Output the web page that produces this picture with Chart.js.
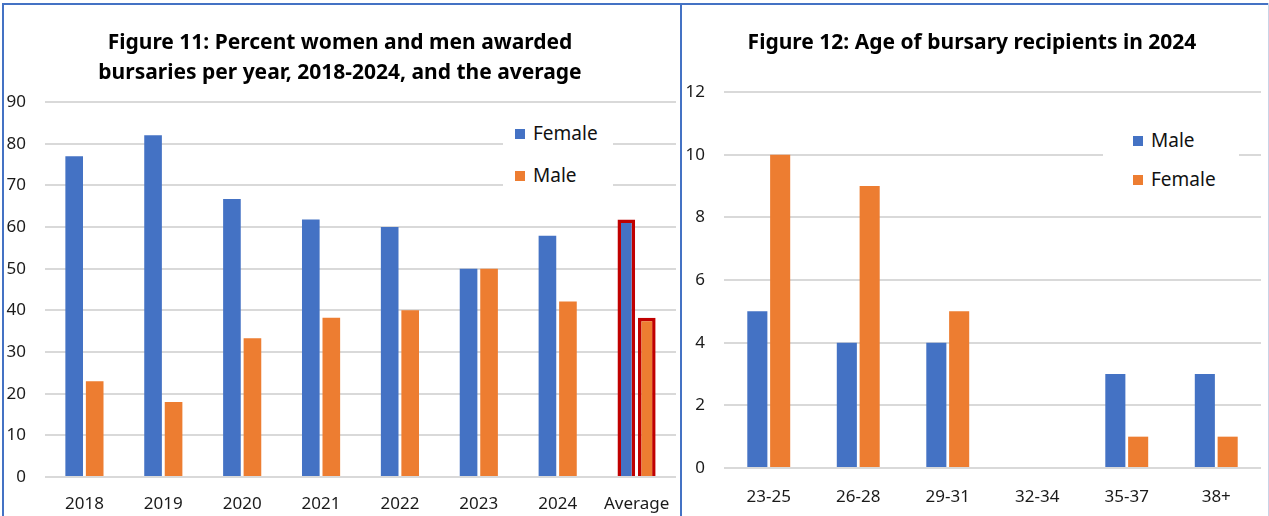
<!DOCTYPE html>
<html>
<head>
<meta charset="utf-8">
<script src="https://cdn.jsdelivr.net/npm/chart.js@4.4.1/dist/chart.umd.min.js"></script>
<style>
  body { margin: 0; background: #fff; font-family: "Noto Sans", sans-serif; }
  .panel { position: absolute; top: 0; height: 516px; }
  .line { position: absolute; background: #4472C4; }
  .legend { position: absolute; background: #fff; font-size: 19px; color: #111; }
  .legend div { position: absolute; left: 0; white-space: nowrap; line-height: 20px; }
  .legend span { display: inline-block; width: 10px; height: 10px; margin-right: 8px; vertical-align: 1px; }
</style>
</head>
<body>
<div class="panel" style="left:0;width:681px"><canvas id="fig11"></canvas></div>
<div class="panel" style="left:683px;width:586px"><canvas id="fig12"></canvas></div>

<div class="line" style="left:2px;top:3px;width:1266px;height:2px"></div>
<div class="line" style="left:2px;top:3px;width:2px;height:513px"></div>
<div class="line" style="left:680px;top:3px;width:2px;height:513px"></div>
<div class="line" style="left:1268px;top:3px;width:1px;height:513px;background:#c9d3e6"></div>

<div class="legend" style="left:503px;top:118px;width:110px;height:77px">
  <div style="left:12px;top:5px"><span style="background:#4472C4"></span>Female</div>
  <div style="left:12px;top:47px"><span style="background:#ED7D31"></span>Male</div>
</div>
<div class="legend" style="left:1103px;top:125px;width:136px;height:70px">
  <div style="left:30px;top:5px"><span style="background:#4472C4"></span>Male</div>
  <div style="left:30px;top:44px"><span style="background:#ED7D31"></span>Female</div>
</div>

<script>
const years = ['2018', '2019', '2020', '2021', '2022', '2023', '2024', 'Average'];
const femalePct = [77, 82, 66.7, 61.8, 60, 50, 57.9, 61.8];
const malePct = [23, 18, 33.3, 38.2, 40, 50, 42.1, 38.2];

const ageGroups = ['23-25', '26-28', '29-31', '32-34', '35-37', '38+'];
const maleAge = [5, 4, 4, 0, 3, 3];
const femaleAge = [10, 9, 5, 0, 1, 1];

const blue = '#4472C4';
const orange = '#ED7D31';
const avgBorder = '#C00000';
const gridColor = '#D9D9D9';
const textColor = '#1a1a1a';
const font = 'Noto Sans';

Chart.defaults.font.family = font;
Chart.defaults.color = textColor;

// red outline only on the "Average" bars
const outline = years.map(y => y === 'Average' ? 3.5 : 0);

new Chart(document.getElementById('fig11'), {
    type: 'bar',
    data: {
        labels: years,
        datasets: [
            { label: 'Female', data: femalePct, backgroundColor: blue, borderColor: avgBorder, borderWidth: outline },
            { label: 'Male', data: malePct, backgroundColor: orange, borderColor: avgBorder, borderWidth: outline }
        ]
    },
    options: {
        responsive: true,
        maintainAspectRatio: false,
        animation: false,
        categoryPercentage: 0.52,
        barPercentage: 0.86,
        layout: { padding: { left: 4, right: 5, top: 0, bottom: 0 } },
        scales: {
            x: {
                grid: { display: false },
                border: { display: false },
                ticks: { font: { size: 17 }, padding: 9, maxRotation: 0 },
                afterFit: scale => { scale.height = 39; }
            },
            y: {
                min: 0,
                max: 90,
                ticks: { stepSize: 10, font: { size: 17 }, padding: 19 },
                grid: { color: gridColor, lineWidth: 2, drawTicks: false },
                border: { display: false },
                afterFit: scale => { scale.width = 41; }
            }
        },
        plugins: {
            legend: { display: false },
            tooltip: { enabled: false },
            title: {
                display: true,
                text: ['Figure 11: Percent women and men awarded', 'bursaries per year, 2018-2024, and the average'],
                color: '#000',
                font: { size: 21, weight: 'bold', lineHeight: '30px' },
                padding: { top: 28, bottom: 14 }
            }
        }
    }
});

new Chart(document.getElementById('fig12'), {
    type: 'bar',
    data: {
        labels: ageGroups,
        datasets: [
            { label: 'Male', data: maleAge, backgroundColor: blue },
            { label: 'Female', data: femaleAge, backgroundColor: orange }
        ]
    },
    options: {
        responsive: true,
        maintainAspectRatio: false,
        animation: false,
        categoryPercentage: 0.51,
        barPercentage: 0.88,
        layout: { padding: { left: 0, right: 8, top: 0, bottom: 0 } },
        scales: {
            x: {
                grid: { display: false },
                border: { display: false },
                ticks: { font: { size: 17 }, padding: 11, maxRotation: 0 },
                afterFit: scale => { scale.height = 48; }
            },
            y: {
                min: 0,
                max: 12,
                ticks: { stepSize: 2, font: { size: 17 }, padding: 19 },
                grid: { color: gridColor, lineWidth: 2, drawTicks: false },
                border: { display: false },
                afterFit: scale => { scale.width = 41; }
            }
        },
        plugins: {
            legend: { display: false },
            tooltip: { enabled: false },
            title: {
                display: true,
                text: 'Figure 12: Age of bursary recipients in 2024',
                color: '#000',
                font: { size: 21, weight: 'bold', lineHeight: '30px' },
                padding: { top: 28, bottom: 34 }
            }
        }
    }
});
</script>
</body>
</html>
